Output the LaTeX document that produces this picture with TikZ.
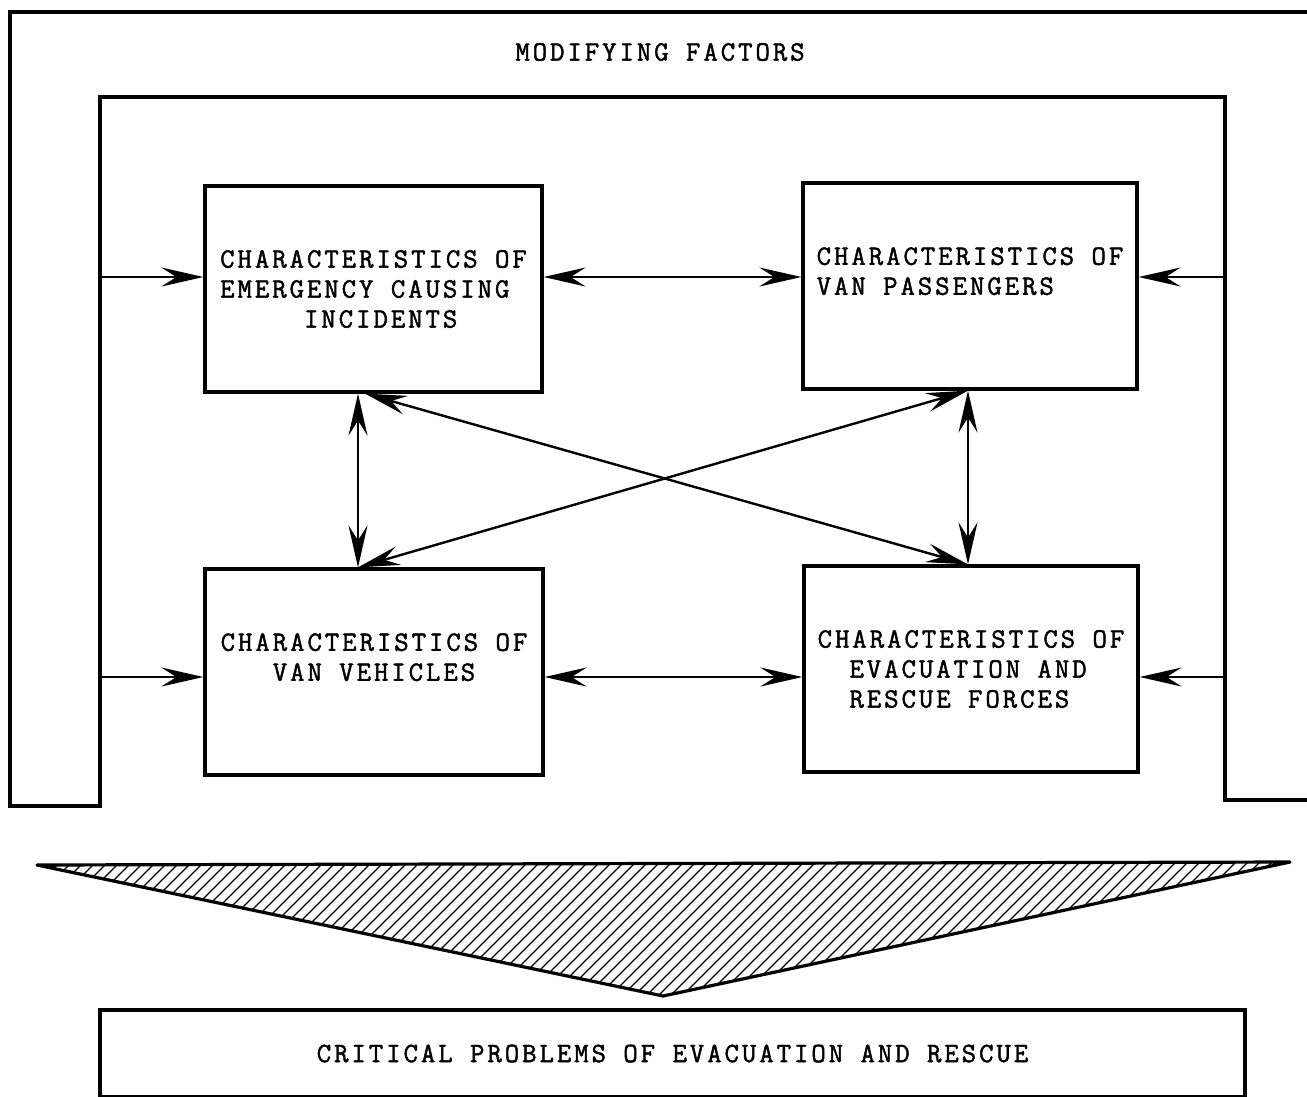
\documentclass[tikz,border=0pt]{standalone}
\usepackage{fontspec}
\setmonofont{Latin Modern Mono}[LetterSpace=10.5, FakeBold=1.6]
\usetikzlibrary{arrows.meta}
\begin{document}
\begin{tikzpicture}[x=1pt,y=-1pt,
  frame/.style={line width=3.4pt, line join=miter},
  box/.style={draw, line width=3.2pt, inner sep=0pt,
    font=\ttfamily\fontsize{28}{30}\selectfont},
  txt/.style={inner sep=0pt, font=\ttfamily\fontsize{28}{30}\selectfont},
  barb/.tip={Stealth[length=42pt,width=19pt,inset=15pt]},
  link/.style={line width=2.4pt, -barb},
  dlink/.style={line width=2.4pt, barb-barb},
  hatch/.style={line width=1.2pt}]
\useasboundingbox (0,0) rectangle (1307,1096);

% surrounding band of modifying factors
\draw[frame] (1320,12) -- (10,12) -- (10,806) -- (100,806) -- (100,97)
  -- (1225,97) -- (1225,800) -- (1320,800);
\node[txt] (mf) at (660,52) {MODIFYING FACTORS};

% the four characteristic boxes
\node[box, minimum width=337pt, minimum height=206pt, align=left] (ec) at (373.5,289)
  {CHARACTERISTICS OF\\EMERGENCY CAUSING\\\phantom{XXXXX}INCIDENTS};
\node[box, minimum width=334pt, minimum height=206pt, align=left] (vp) at (970,286)
  {CHARACTERISTICS OF\\VAN PASSENGERS\\\phantom{X}};
\node[box, minimum width=338pt, minimum height=206pt, align=center] (vv) at (374,672)
  {CHARACTERISTICS OF\\VAN VEHICLES\\\phantom{X}};
\node[box, minimum width=334pt, minimum height=206pt, align=left] (er) at (971,669)
  {CHARACTERISTICS OF\\\phantom{XX}EVACUATION AND\\\phantom{XX}RESCUE FORCES};

% taps on the inner edge of the band
\coordinate (fl1) at (100,277);
\coordinate (fl2) at (100,677);
\coordinate (fr1) at (1225,277);
\coordinate (fr2) at (1225,677);
\coordinate (cl) at (358,0);
\coordinate (dl) at (365,0);
\coordinate (cr) at (968,0);

\draw[link] (fl1) -- (fl1 -| ec.west);
\draw[link] (fl2) -- (fl2 -| vv.west);
\draw[link] (fr1) -- (fr1 -| vp.east);
\draw[link] (fr2) -- (fr2 -| er.east);

% mutual influences
\draw[dlink] (fl1 -| ec.east) -- (fl1 -| vp.west);
\draw[dlink] (fl2 -| vv.east) -- (fl2 -| er.west);
\draw[dlink] (cl |- ec.south) -- (cl |- vv.north);
\draw[dlink] (cr |- vp.south) -- (cr |- er.north);
\draw[dlink] (dl |- ec.south) -- (cr |- er.north);
\draw[dlink] (cl |- vv.north) -- (cr |- vp.south);

% hatched funnel
\coordinate (tl) at (37,865);
\coordinate (tr) at (1290,862);
\coordinate (ap) at (663,996);
\begin{scope}
  \clip (tl) -- (tr) -- (ap) -- cycle;
  \foreach \x in {-150,-138,...,1300}
    \draw[hatch] (\x,1000) -- ++(145,-145);
\end{scope}
\draw[line width=3.2pt, line join=round] (tl) -- (tr) -- (ap) -- cycle;

% result
\node[box, minimum width=1145pt, minimum height=87pt] (cp) at (672.5,1053.5)
  {CRITICAL PROBLEMS OF EVACUATION AND RESCUE};
\end{tikzpicture}
\end{document}
